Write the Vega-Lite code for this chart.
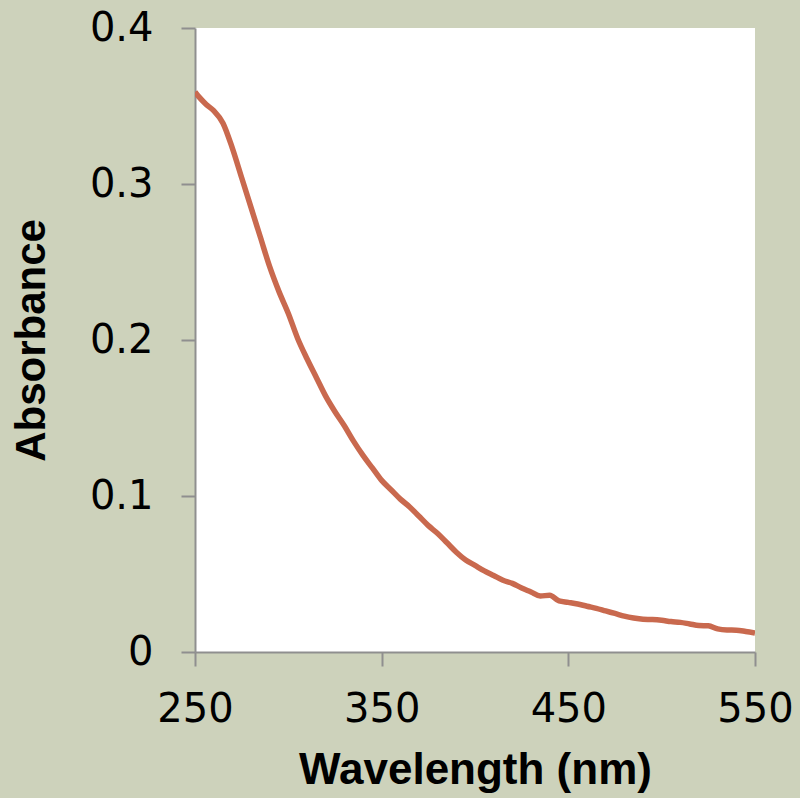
{
  "$schema": "https://vega.github.io/schema/vega-lite/v6.json",
  "width": 560,
  "height": 624,
  "autosize": {"type": "none"},
  "padding": {"left": 195, "top": 28, "right": 45, "bottom": 146},
  "background": "#cdd2bb",
  "config": {
    "view": {"fill": "white", "stroke": null}
  },
  "data": {
    "values": [
      {"wavelength": 250, "absorbance": 0.359},
      {"wavelength": 252, "absorbance": 0.356},
      {"wavelength": 256, "absorbance": 0.351},
      {"wavelength": 260, "absorbance": 0.347},
      {"wavelength": 265, "absorbance": 0.339},
      {"wavelength": 270, "absorbance": 0.323},
      {"wavelength": 275, "absorbance": 0.304},
      {"wavelength": 280, "absorbance": 0.285},
      {"wavelength": 285, "absorbance": 0.266},
      {"wavelength": 290, "absorbance": 0.247},
      {"wavelength": 295, "absorbance": 0.231},
      {"wavelength": 300, "absorbance": 0.217},
      {"wavelength": 305, "absorbance": 0.201},
      {"wavelength": 310, "absorbance": 0.188},
      {"wavelength": 315, "absorbance": 0.176},
      {"wavelength": 320, "absorbance": 0.164},
      {"wavelength": 325, "absorbance": 0.154},
      {"wavelength": 330, "absorbance": 0.145},
      {"wavelength": 335, "absorbance": 0.135},
      {"wavelength": 340, "absorbance": 0.126},
      {"wavelength": 345, "absorbance": 0.118},
      {"wavelength": 350, "absorbance": 0.110},
      {"wavelength": 355, "absorbance": 0.104},
      {"wavelength": 360, "absorbance": 0.098},
      {"wavelength": 365, "absorbance": 0.093},
      {"wavelength": 370, "absorbance": 0.087},
      {"wavelength": 375, "absorbance": 0.081},
      {"wavelength": 380, "absorbance": 0.076},
      {"wavelength": 385, "absorbance": 0.070},
      {"wavelength": 390, "absorbance": 0.064},
      {"wavelength": 395, "absorbance": 0.059},
      {"wavelength": 400, "absorbance": 0.0555},
      {"wavelength": 405, "absorbance": 0.052},
      {"wavelength": 410, "absorbance": 0.049},
      {"wavelength": 415, "absorbance": 0.046},
      {"wavelength": 420, "absorbance": 0.044},
      {"wavelength": 425, "absorbance": 0.041},
      {"wavelength": 430, "absorbance": 0.0385},
      {"wavelength": 435, "absorbance": 0.0359},
      {"wavelength": 440, "absorbance": 0.0364},
      {"wavelength": 445, "absorbance": 0.0327},
      {"wavelength": 450, "absorbance": 0.0318},
      {"wavelength": 455, "absorbance": 0.0308},
      {"wavelength": 460, "absorbance": 0.0293},
      {"wavelength": 465, "absorbance": 0.0280},
      {"wavelength": 470, "absorbance": 0.0263},
      {"wavelength": 475, "absorbance": 0.0247},
      {"wavelength": 480, "absorbance": 0.0230},
      {"wavelength": 485, "absorbance": 0.0218},
      {"wavelength": 490, "absorbance": 0.0210},
      {"wavelength": 495, "absorbance": 0.0208},
      {"wavelength": 500, "absorbance": 0.0203},
      {"wavelength": 505, "absorbance": 0.0195},
      {"wavelength": 510, "absorbance": 0.0190},
      {"wavelength": 515, "absorbance": 0.0180},
      {"wavelength": 520, "absorbance": 0.0170},
      {"wavelength": 525, "absorbance": 0.0168},
      {"wavelength": 530, "absorbance": 0.0148},
      {"wavelength": 535, "absorbance": 0.0141},
      {"wavelength": 540, "absorbance": 0.0140},
      {"wavelength": 545, "absorbance": 0.0132},
      {"wavelength": 550, "absorbance": 0.0122}
    ]
  },
  "mark": {"type": "line", "color": "#c9694e", "strokeWidth": 5.5, "interpolate": "monotone", "clip": true},
  "encoding": {
    "x": {
      "field": "wavelength",
      "type": "quantitative",
      "scale": {"domain": [250, 550], "nice": false, "zero": false},
      "axis": {
        "title": "Wavelength (nm)",
        "values": [250, 350, 450, 550],
        "grid": false,
        "domainColor": "#8f8f8f",
        "domainWidth": 2,
        "tickColor": "#8f8f8f",
        "tickWidth": 2,
        "tickSize": 14,
        "labelFont": "DejaVu Sans",
        "labelFontSize": 40,
        "labelColor": "black",
        "labelPadding": 23,
        "labelFlush": false,
        "titleFont": "Liberation Sans",
        "titleFontSize": 44,
        "titleFontWeight": "bold",
        "titleColor": "black",
        "titlePadding": 19
      }
    },
    "y": {
      "field": "absorbance",
      "type": "quantitative",
      "scale": {"domain": [0, 0.4], "nice": false},
      "axis": {
        "title": "Absorbance",
        "values": [0, 0.1, 0.2, 0.3, 0.4],
        "format": ".1~f",
        "grid": false,
        "domainColor": "#8f8f8f",
        "domainWidth": 2,
        "tickColor": "#8f8f8f",
        "tickWidth": 2,
        "tickSize": 14,
        "labelFont": "DejaVu Sans",
        "labelFontSize": 40,
        "labelColor": "black",
        "labelPadding": 28,
        "labelFlush": false,
        "titleFont": "Liberation Sans",
        "titleFontSize": 42,
        "titleFontWeight": "bold",
        "titleColor": "black",
        "titlePadding": 36
      }
    }
  }
}
